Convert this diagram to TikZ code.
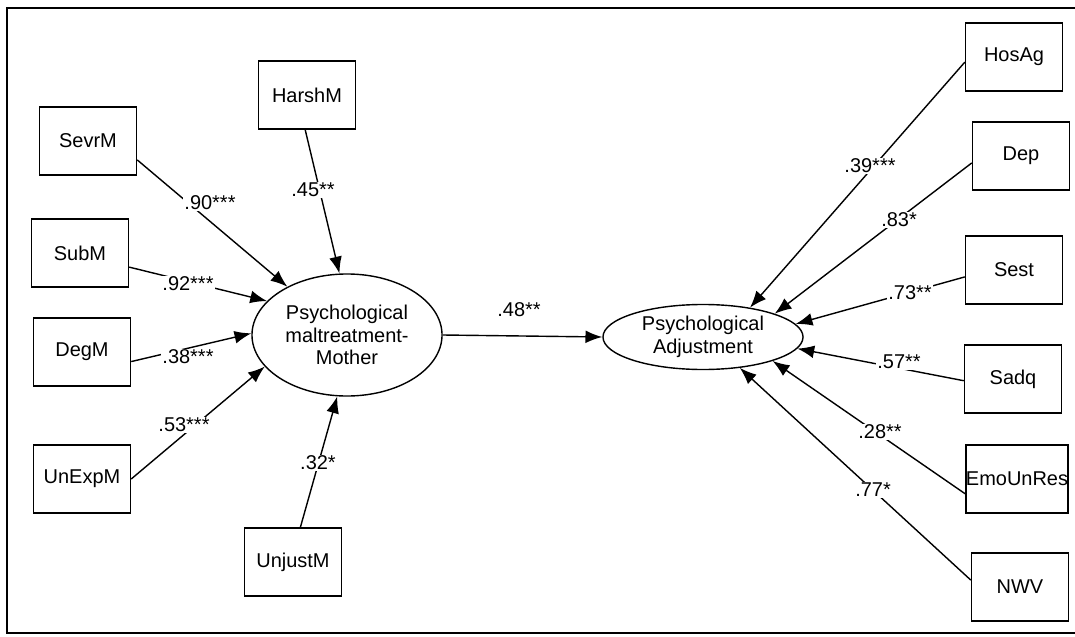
\documentclass[tikz,border=0pt]{standalone}
\usepackage{fontspec}
\setmainfont{Liberation Sans}
\usetikzlibrary{shapes.geometric,arrows.meta}

\begin{document}
\begin{tikzpicture}[x=0.025cm, y=-0.025cm,
	obs/.style={draw, line width=1pt, minimum width=2.425cm, minimum height=1.7cm, inner sep=0pt},
	lat/.style={draw, ellipse, line width=1pt, inner sep=0pt, align=center},
	load/.style={line width=1pt, -{Latex[length=4.2mm,width=3.2mm]}},
	coef/.style={fill=white, inner sep=1pt},
	font=\fontsize{14.2}{16}\selectfont]

	\useasboundingbox (0,0) rectangle (1075,636);
	\draw[line width=1.5pt] (1075,8) -- (7,8) -- (7,633) -- (1075,633);

	% mother side
	\node[obs] (harshm) at (307,95) {HarshM};
	\node[obs] (sevrm) at (88,141) {SevrM};
	\node[obs] (subm) at (80,253) {SubM};
	\node[obs] (degm) at (82,352) {DegM};
	\node[obs] (unexpm) at (82,479) {UnExpM};
	\node[obs] (unjustm) at (293,562) {UnjustM};
	\node[lat, minimum width=4.75cm, minimum height=3.05cm] (pmm) at (347,335) {Psychological\\maltreatment-\\Mother};

	% adjustment side
	\node[lat, minimum width=5cm, minimum height=1.625cm] (adj) at (703,337) {Psychological\\Adjustment};
	\node[obs] (hosag) at (1014,57) {HosAg};
	\node[obs] (dep) at (1021,156) {Dep};
	\node[obs] (sest) at (1014,270) {Sest};
	\node[obs] (sadq) at (1013,379) {Sadq};
	\node[obs] (emounres) at (1017,479) {EmoUnRes};
	\node[obs] (nwv) at (1020,587) {NWV};

	\draw[load] (sevrm.-21) -- (pmm.141);
	\draw[load] (harshm.267) -- (pmm.97);
	\draw[load] (subm.-16) -- (pmm.157);
	\draw[load] (degm.-11) -- (pmm.179);
	\draw[load] (unexpm.0) -- (pmm.201);
	\draw[load] (unjustm.78) -- (pmm.261);

	\draw[load] (pmm.east) -- (adj.west);

	\draw[load] (hosag.186) -- (adj.32);
	\draw[load] (dep.188) -- (adj.18);
	\draw[load] (sest.188) -- (adj.8);
	\draw[load] (sadq.182) -- (adj.-7);
	\draw[load] (emounres.196) -- (adj.-19);
	\draw[load] (nwv.172) -- (adj.-40);

	% coefficients
	\node[coef] (l90) at (210,203) {.90***};
	\node[coef] (l45) at (313,190) {.45**};
	\node[coef] (l92) at (188,284) {.92***};
	\node[coef] (l38) at (188,357) {.38***};
	\node[coef] (l53) at (184,425) {.53***};
	\node[coef] (l32) at (318,463) {.32*};
	\node[coef] (l48) at (519,310) {.48**};
	\node[coef] (l39) at (870,166) {.39***};
	\node[coef] (l83) at (899,220) {.83*};
	\node[coef] (l73) at (910,293) {.73**};
	\node[coef] (l57) at (899,362) {.57**};
	\node[coef] (l28) at (880,432) {.28**};
	\node[coef] (l77) at (873,490) {.77*};
\end{tikzpicture}
\end{document}
